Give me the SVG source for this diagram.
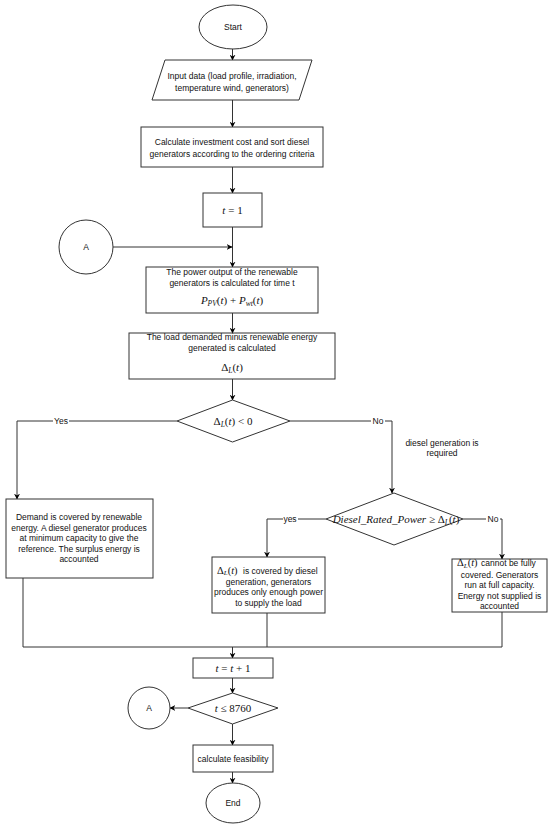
<svg xmlns="http://www.w3.org/2000/svg" width="550" height="829" viewBox="0 0 550 829">
<defs>
<marker id="arr" viewBox="0 0 10 10" refX="9" refY="5" markerWidth="6" markerHeight="6" orient="auto" markerUnits="userSpaceOnUse">
<path d="M0,0 L10,5 L0,10 L3,5 Z" fill="#000"/>
</marker>
<style>
.shape{fill:#fff;stroke:#333;stroke-width:1}
.t{font-family:"Liberation Sans",Arial,sans-serif;font-size:8.5px;fill:#111;text-anchor:middle}
.m{font-family:"Liberation Serif","Times New Roman",serif;font-size:11px;fill:#111;text-anchor:middle}
.t.s,.m.s{text-anchor:start}
.i{font-style:italic}
.c{fill:none;stroke:#333;stroke-width:1}
.a{fill:none;stroke:#333;stroke-width:1;marker-end:url(#arr)}
.lb{fill:#fff;stroke:none}
</style>
</defs>
<rect width="550" height="829" fill="#fff"/>

<g id="connectors">
<path class="a" d="M232.5,49 V60"/>
<path class="a" d="M232.5,100 V127"/>
<path class="a" d="M232.5,167 V193"/>
<path class="a" d="M232.5,227 V267"/>
<path class="a" d="M113,247 H232"/>
<path class="a" d="M232.5,313 V333"/>
<path class="a" d="M232.5,379 V400"/>
<path class="a" d="M177,421 H17 V499"/>
<path class="a" d="M290,421 H392 V493"/>
<path class="a" d="M326,519 H267 V557"/>
<path class="a" d="M463,519 H502 V559"/>
<path class="c" d="M23,578 V647 H502 V612"/>
<path class="c" d="M267,613 V647"/>
<path class="a" d="M232.5,647 V658"/>
<path class="a" d="M232.5,678 V693"/>
<path class="a" d="M188,708 H170"/>
<path class="a" d="M232.5,724 V745"/>
<path class="a" d="M232.5,772 V783"/>
<rect class="lb" x="53" y="415" width="16" height="11"/>
<text class="t" x="61" y="424">Yes</text>
<rect class="lb" x="371" y="415" width="14" height="11"/>
<text class="t" x="378" y="424">No</text>
<rect class="lb" x="283" y="513" width="15" height="11"/>
<text class="t" x="290" y="522">yes</text>
<rect class="lb" x="486" y="513" width="14" height="11"/>
<text class="t" x="493" y="522">No</text>
<text class="t" x="442" y="446">diesel generation is</text>
<text class="t" x="442" y="456">required</text>
</g>

<g id="start">
<ellipse class="shape" cx="233" cy="27" rx="34" ry="22"/>
<text class="t" x="233" y="30">Start</text>
</g>

<g id="input">
<polygon class="shape" points="165,60 312,60 299,100 152,100"/>
<text class="t" x="232" y="79">Input data (load profile, irradiation,</text>
<text class="t" x="232" y="91">temperature wind, generators)</text>
</g>

<g id="invest">
<rect class="shape" x="141" y="127" width="182" height="40"/>
<text class="t" x="232" y="145">Calculate investment cost and sort diesel</text>
<text class="t" x="232" y="157">generators according to the ordering criteria</text>
</g>

<g id="t1">
<rect class="shape" x="203" y="193" width="59" height="34"/>
<text class="m" x="232.5" y="214"><tspan class="i">t</tspan> = 1</text>
</g>

<g id="connA1">
<circle class="shape" cx="86" cy="247" r="27"/>
<text class="t" x="86" y="250">A</text>
</g>

<g id="renew">
<rect class="shape" x="146" y="267" width="172" height="46"/>
<text class="t" x="232" y="275">The power output of the renewable</text>
<text class="t" x="232" y="286">generators is calculated for time t</text>
<text class="m" x="232" y="304"><tspan class="i">P</tspan><tspan class="i" font-size="7.5" dy="2">PV</tspan><tspan dy="-2">(</tspan><tspan class="i">t</tspan>) + <tspan class="i">P</tspan><tspan class="i" font-size="7.5" dy="2">wt</tspan><tspan dy="-2">(</tspan><tspan class="i">t</tspan>)</text>
</g>

<g id="deltaCalc">
<rect class="shape" x="129" y="333" width="206" height="46"/>
<text class="t" x="232" y="340">The load demanded minus renewable energy</text>
<text class="t" x="232" y="351">generated is calculated</text>
<text class="m" x="232" y="371">Δ<tspan class="i" font-size="7.5" dy="2">L</tspan><tspan dy="-2">(</tspan><tspan class="i">t</tspan>)</text>
</g>

<g id="dec1">
<polygon class="shape" points="232.5,400 290,421 232.5,442 177,421"/>
<text class="m" x="233" y="425">Δ<tspan class="i" font-size="7.5" dy="2">L</tspan><tspan dy="-2">(</tspan><tspan class="i">t</tspan>) &lt; 0</text>
</g>

<g id="yesBox">
<rect class="shape" x="6" y="499" width="147" height="79"/>
<text class="t" x="79" y="520">Demand is covered by renewable</text>
<text class="t" x="79" y="530.5">energy. A diesel generator produces</text>
<text class="t" x="79" y="541">at minimum capacity to give the</text>
<text class="t" x="79" y="551.5">reference. The surplus energy is</text>
<text class="t" x="79" y="562">accounted</text>
</g>

<g id="dec2">
<polygon class="shape" points="394,493 463,519 394,545 326,519"/>
<text class="m" x="396" y="523"><tspan class="i">Diesel_Rated_Power</tspan> ≥ Δ<tspan class="i" font-size="7.5" dy="2">L</tspan><tspan dy="-2">(</tspan><tspan class="i">t</tspan>)</text>
</g>

<g id="midBox">
<rect class="shape" x="212" y="557" width="113" height="56"/>
<text class="m s" x="217" y="573.5" style="font-size:10.5px">Δ<tspan class="i" font-size="7" dy="1.5">L</tspan><tspan dy="-1.5">(</tspan><tspan class="i">t</tspan>)</text>
<text class="t s" x="243" y="573.5">is covered by diesel</text>
<text class="t" x="268.5" y="584.5">generation, generators</text>
<text class="t" x="268.5" y="595">produces only enough power</text>
<text class="t" x="268.5" y="605.5">to supply the load</text>
</g>

<g id="rightBox">
<rect class="shape" x="452" y="559" width="95" height="53"/>
<text class="m s" x="457" y="566" style="font-size:10.5px">Δ<tspan class="i" font-size="7" dy="1.5">L</tspan><tspan dy="-1.5">(</tspan><tspan class="i">t</tspan>)</text>
<text class="t s" x="481" y="566">cannot be fully</text>
<text class="t" x="499.5" y="577.5">covered. Generators</text>
<text class="t" x="499.5" y="588">run at full capacity.</text>
<text class="t" x="499.5" y="598.5">Energy not supplied is</text>
<text class="t" x="499.5" y="609">accounted</text>
</g>

<g id="tinc">
<rect class="shape" x="193" y="658" width="80" height="20"/>
<text class="m" x="233" y="672"><tspan class="i">t</tspan> = <tspan class="i">t</tspan> + 1</text>
</g>

<g id="dec3">
<polygon class="shape" points="232.5,693 278,708 232.5,724 188,708"/>
<text class="m" x="233" y="712"><tspan class="i">t</tspan> ≤ 8760</text>
</g>

<g id="connA2">
<circle class="shape" cx="149" cy="708" r="21"/>
<text class="t" x="149" y="711">A</text>
</g>

<g id="feas">
<rect class="shape" x="193" y="745" width="80" height="27"/>
<text class="t" x="233" y="761.5">calculate feasibility</text>
</g>

<g id="end">
<ellipse class="shape" cx="233" cy="803" rx="27" ry="20"/>
<text class="t" x="233" y="806">End</text>
</g>
</svg>
